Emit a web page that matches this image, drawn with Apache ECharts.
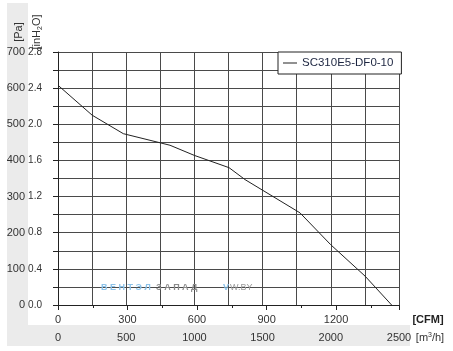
<!DOCTYPE html>
<html>
<head>
<meta charset="utf-8">
<script src="https://cdn.jsdelivr.net/npm/echarts@6/dist/echarts.min.js"></script>
<style>
html,body{margin:0;padding:0;background:#fff;}
#wrap{position:relative;width:453px;height:351px;}
.band{position:absolute;background:#ebebeb;z-index:0;}
#chart{position:absolute;left:0;top:0;width:453px;height:351px;z-index:1;}
</style>
</head>
<body>
<div id="wrap">
  <div class="band" style="left:7px;top:3px;width:21px;height:343px;"></div>
  <div class="band" style="left:7px;top:325px;width:403px;height:21px;"></div>
  <div id="chart"></div>
</div>
<script>
// Data (flow in m3/h, static pressure in Pa)
const seriesName = 'SC310E5-DF0-10';
const flowM3h = [0, 251, 479, 821, 999, 1254, 1371, 1774, 1999, 2251, 2446];
const pressurePa = [608, 525, 474, 442, 414, 380, 347, 255, 167, 80, 0];
const m3hPerCfm = 1.699;
const m3hMax = 2500;
const paMax = 700;
const inH2OMax = 2.8;

const FONT = 'Liberation Sans, Arial, sans-serif';
const chart = echarts.init(document.getElementById('chart'), null, {renderer: 'canvas'});

const points = flowM3h.map((q, i) => [q, pressurePa[i]]);

chart.setOption({
  animation: false,
  backgroundColor: 'transparent',
  textStyle: {fontFamily: FONT},
  grid: {left: 58, right: 54, top: 52, bottom: 46, containLabel: false},
  legend: {
    left: 278, top: 52,
    orient: 'horizontal',
    backgroundColor: '#fff',
    borderColor: '#222', borderWidth: 1, borderRadius: 0,
    padding: [5, 8, 5, 5],
    itemWidth: 14, itemHeight: 1,
    itemGap: 0,
    textStyle: {fontFamily: FONT, fontSize: 11.5, color: '#1c2540'},
    data: [{name: seriesName, icon: 'rect', itemStyle: {color: '#222'}}]
  },
  xAxis: [
    {
      type: 'value', position: 'bottom', min: 0, max: m3hMax, interval: 250,
      axisLine: {show: false}, axisTick: {show: false},
      splitLine: {show: true, lineStyle: {color: '#4a4a4a', width: 1}},
      axisLabel: {
        margin: 27, fontSize: 11, color: '#333', fontFamily: FONT,
        formatter: v => (v % 500 === 0 ? String(v) : '')
      }
    },
    {
      type: 'value', position: 'bottom', min: 0, max: m3hMax / m3hPerCfm, interval: 300,
      axisLine: {show: true, onZero: false, lineStyle: {color: '#222', width: 1}},
      axisTick: {show: true, length: 5, lineStyle: {color: '#222'}},
      minorTick: {show: true, splitNumber: 2, length: 3, lineStyle: {color: '#222'}},
      splitLine: {show: false},
      axisLabel: {
        margin: 9, fontSize: 11, color: '#333', fontFamily: FONT,
        showMaxLabel: false,
        formatter: v => (v % 300 === 0 ? String(v) : '')
      }
    }
  ],
  yAxis: [
    {
      type: 'value', position: 'left', min: 0, max: paMax, interval: 50,
      axisLine: {show: true, lineStyle: {color: '#222', width: 1}},
      axisTick: {show: true, length: 5, lineStyle: {color: '#222'}},
      splitLine: {show: true, lineStyle: {color: '#4a4a4a', width: 1}},
      axisLabel: {
        margin: 33, fontSize: 11, color: '#333', fontFamily: FONT,
        formatter: v => (v % 100 === 0 ? String(v) : '')
      }
    },
    {
      type: 'value', position: 'left', min: 0, max: inH2OMax, interval: 0.4,
      axisLine: {show: false}, axisTick: {show: false}, splitLine: {show: false},
      axisLabel: {
        margin: 16, fontSize: 10, color: '#333', fontFamily: FONT,
        formatter: v => v.toFixed(1)
      }
    }
  ],
  series: [{
    name: seriesName,
    type: 'line',
    xAxisIndex: 0, yAxisIndex: 0,
    data: points,
    symbol: 'none',
    smooth: false,
    lineStyle: {color: '#222', width: 1},
    itemStyle: {color: '#222'},
    z: 3
  }],
  graphic: [
    {type: 'text', x: 19, y: 32, rotation: Math.PI / 2, style: {text: '[Pa]', font: '11px ' + FONT, fill: '#333', align: 'center', verticalAlign: 'middle'}},
    {type: 'text', x: 37, y: 32, rotation: Math.PI / 2,
      style: {text: '[inH{s|2}O]', font: '11px ' + FONT, fill: '#333', align: 'center', verticalAlign: 'middle',
        rich: {s: {fontSize: 7, fontFamily: FONT, fill: '#333', padding: [6, 0, 0, 0]}}}},
    {type: 'text', x: 428, y: 320, style: {text: '[CFM]', font: 'bold 11px ' + FONT, fill: '#222', align: 'center', verticalAlign: 'middle'}},
    {type: 'text', x: 430, y: 338,
      style: {text: '[m{s|3}/h]', font: '11px ' + FONT, fill: '#333', align: 'center', verticalAlign: 'middle',
        rich: {s: {fontSize: 7, fontFamily: FONT, fill: '#333', padding: [0, 0, 6, 0]}}}},
    {type: 'text', x: 101, y: 288, z: 1, style: {text: 'В Е Н Т Э Л', font: 'bold 9px ' + FONT, fill: '#8cc3ea', verticalAlign: 'middle'}},
    {type: 'text', x: 156, y: 288, z: 1, style: {text: 'З А П А Д', font: 'bold 9px ' + FONT, fill: '#8a8a8a', verticalAlign: 'middle'}},
    {type: 'text', x: 223, y: 288, z: 1, style: {text: 'V', font: 'bold 9px ' + FONT, fill: '#8cc3ea', verticalAlign: 'middle'}},
    {type: 'text', x: 230, y: 288, z: 1, style: {text: 'W.BY', font: '9px ' + FONT, fill: '#9a9a9a', verticalAlign: 'middle'}}
  ]
});
</script>
</body>
</html>
